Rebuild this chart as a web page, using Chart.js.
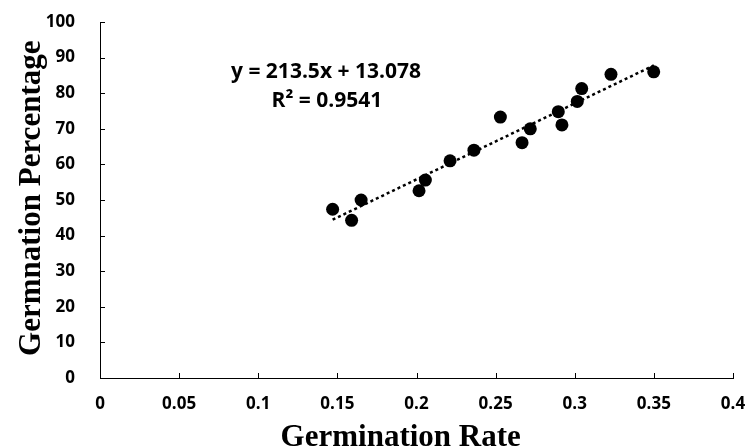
<!DOCTYPE html>
<html>
<head>
<meta charset="utf-8">
<title>Germination Rate vs Percentage</title>
<script src="https://cdn.jsdelivr.net/npm/chart.js@4.4.1/dist/chart.umd.min.js"></script>
<style>
  html, body { margin: 0; padding: 0; background: #fff; }
</style>
</head>
<body>
<canvas id="chart" width="745" height="448"></canvas>
<script>
// Data
const rateValues = [0.147, 0.159, 0.165, 0.2016, 0.2056, 0.2212, 0.2363, 0.253,
                    0.2667, 0.2719, 0.2896, 0.2919, 0.3016, 0.3044, 0.3229, 0.3499];
const percentValues = [47.4, 44.3, 50.0, 52.6, 55.6, 61.0, 64.0, 73.3,
                       66.1, 70.0, 74.8, 71.1, 77.7, 81.3, 85.3, 86.0];

const xTicks = [0, 0.05, 0.1, 0.15, 0.2, 0.25, 0.3, 0.35, 0.4];
const yTicks = [0, 10, 20, 30, 40, 50, 60, 70, 80, 90, 100];

// Linear trendline as printed on the chart
const trendSlope = 213.5;
const trendIntercept = 13.078;
const trendRange = [0.147, 0.35];
const equationLines = ['y = 213.5x + 13.078', 'R\u00b2 = 0.9541'];

const xTitle = 'Germination Rate';
const yTitle = 'Germnation Percentage';

const points = rateValues.map((r, i) => ({ x: r, y: percentValues[i] }));
const trendPoints = trendRange.map(r => ({ x: r, y: trendSlope * r + trendIntercept }));

const tickFont = { family: '"Open Sans", sans-serif', size: 17, weight: 'bold' };

// inward tick marks, the equation box and the axis titles
const decorations = {
    id: 'decorations',
    afterDraw(chart) {
        const { ctx, chartArea, scales: { x, y } } = chart;
        ctx.save();
        ctx.strokeStyle = '#000';
        ctx.lineWidth = 1;
        ctx.beginPath();
        xTicks.forEach(v => {
            const px = Math.round(x.getPixelForValue(v)) + 0.5;
            ctx.moveTo(px, chartArea.bottom);
            ctx.lineTo(px, chartArea.bottom - 5);
        });
        yTicks.forEach(v => {
            const py = Math.round(y.getPixelForValue(v)) + 0.5;
            ctx.moveTo(chartArea.left, py);
            ctx.lineTo(chartArea.left + 5, py);
        });
        ctx.stroke();

        ctx.fillStyle = '#000';
        ctx.textAlign = 'center';
        ctx.textBaseline = 'alphabetic';
        ctx.font = 'bold 21px "Open Sans", sans-serif';
        ctx.fillText(equationLines[0], x.getPixelForValue(0.1428), y.getPixelForValue(84.3));
        ctx.fillText(equationLines[1], x.getPixelForValue(0.1434), y.getPixelForValue(76.1));

        ctx.font = 'bold 31px "Liberation Serif", serif';
        ctx.fillText(xTitle, x.getPixelForValue(0.19), 446);
        ctx.translate(40, y.getPixelForValue(50.5));
        ctx.rotate(-Math.PI / 2);
        ctx.fillText(yTitle, 0, 0);
        ctx.restore();
    }
};

new Chart(document.getElementById('chart'), {
    type: 'scatter',
    data: {
        datasets: [
            {
                label: 'Germination',
                data: points,
                pointRadius: 6.5,
                pointHoverRadius: 6.5,
                pointBackgroundColor: '#000',
                pointBorderWidth: 0,
                order: 1
            },
            {
                label: 'Linear trend',
                type: 'line',
                data: trendPoints,
                showLine: true,
                pointRadius: 0,
                borderColor: '#000',
                borderWidth: 2.5,
                borderDash: [3, 3],
                fill: false,
                order: 2
            }
        ]
    },
    options: {
        responsive: false,
        animation: false,
        devicePixelRatio: 1,
        layout: { padding: { left: 0, right: 12, top: 22, bottom: 0 } },
        plugins: {
            legend: { display: false },
            tooltip: { enabled: false }
        },
        scales: {
            x: {
                type: 'linear',
                min: 0,
                max: 0.4,
                afterBuildTicks: s => { s.ticks = xTicks.map(v => ({ value: v })); },
                afterFit: s => { s.height = 70; s.paddingLeft = 0; s.paddingRight = 0; },
                grid: { display: false },
                border: { display: true, color: '#000', width: 1 },
                ticks: {
                    color: '#000',
                    font: tickFont,
                    padding: 8,
                    maxRotation: 0,
                    callback: v => String(v)
                }
            },
            y: {
                type: 'linear',
                min: 0,
                max: 100,
                afterBuildTicks: s => { s.ticks = yTicks.map(v => ({ value: v })); },
                afterFit: s => { s.width = 100; s.paddingTop = 0; s.paddingBottom = 0; },
                grid: { display: false },
                border: { display: true, color: '#000', width: 1 },
                ticks: {
                    color: '#000',
                    font: tickFont,
                    padding: 17,
                    callback: v => String(v)
                }
            }
        }
    },
    plugins: [decorations]
});
</script>
</body>
</html>
